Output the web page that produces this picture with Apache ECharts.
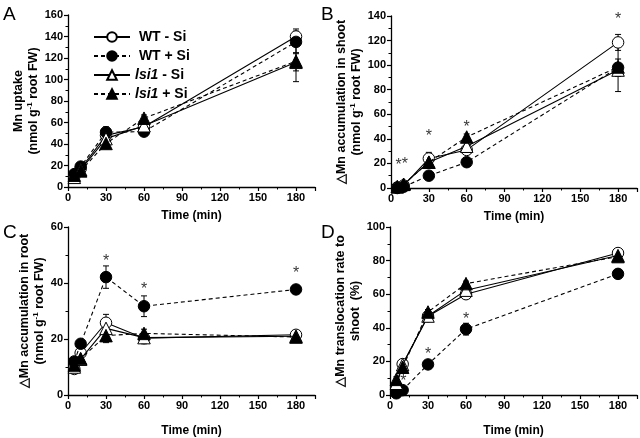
<!DOCTYPE html>
<html>
<head>
<meta charset="utf-8">
<script src="https://cdn.jsdelivr.net/npm/echarts@6/dist/echarts.min.js"></script>
<style>
  html, body { margin: 0; padding: 0; background: #fff; }
  #chart { width: 640px; height: 438px; }
</style>
</head>
<body>
<div id="chart"></div>
<script>
// sampling times (min)
const times = [5, 10, 30, 60, 180];
const groupNames = ['WT - Si', 'WT + Si', 'lsi1 - Si', 'lsi1 + Si'];

// A: Mn uptake, order = groupNames
const uptake = [
  [10, 17, 48, 56, 140],
  [12, 19, 51, 51.5, 135],
  [9, 16, 45, 57, 116],
  [11, 15, 40.5, 64, 117]
];
const uptakeErr = [
  [3, 2, 6, 4, 7],
  [2, 2, 5, 3, 10],
  [3, 2, 4, 3, 8],
  [2, 2, 4, 3, 19]
];
const uptakeStars = [];

// B: delta Mn accumulation in shoot
const shoot = [
  [0.5, 2, 24, 31, 118.5],
  [0, 1, 10, 21, 98],
  [1, 3, 21, 34, 96],
  [1, 3, 21, 41.5, 98.5]
];
const shootErr = [
  [1, 1, 5, 3, 6.5],
  [0.5, 0.5, 1.5, 1.5, 7],
  [1, 1, 3, 3, 5],
  [1, 1, 4, 2.5, 20]
];
const shootStars = [[6, 18], [11, 19], [30, 42], [60, 49], [180, 137]];

// C: delta Mn accumulation in root
const root = [
  [9.3, 15, 25.8, 20.3, 21.5],
  [12, 18.3, 42.1, 31.7, 37.7],
  [10, 12.8, 23.8, 20.5, 21],
  [10.7, 13, 21.2, 22, 20.7]
];
const rootErr = [
  [1.5, 1.5, 3, 2, 1.5],
  [1, 1, 4, 3.7, 1.5],
  [1.5, 1.5, 2, 1.5, 1.5],
  [1, 1, 2.5, 1.5, 1.5]
];
const rootStars = [[30, 47.5], [60, 37.5], [180, 43.5]];

// D: delta Mn translocation rate to shoot (%)
const rate = [
  [4.8, 18.4, 46.9, 60, 84.5],
  [1, 2.9, 18.2, 39.2, 72.1],
  [7, 18, 47, 62.4, 83],
  [9.3, 16.5, 49.4, 66.3, 82.4]
];
const rateErr = [
  [2, 2, 2, 2, 1.5],
  [0.5, 1, 1.5, 3.5, 1.5],
  [2, 2, 2, 1.5, 1.5],
  [1.5, 2, 1.5, 1.5, 1.5]
];
const rateStars = [[10.5, 8], [30, 24], [60, 45], [180, 78]];

const FONT = '"Liberation Sans", Arial, sans-serif';

const grids = [
  { left: 68, top: 15, width: 247, height: 172 },
  { left: 391, top: 16, width: 246, height: 172 },
  { left: 68, top: 227, width: 247, height: 172 },
  { left: 390, top: 227, width: 247, height: 172 }
];

const panels = [
  { values: uptake, errs: uptakeErr, stars: uptakeStars, yMax: 160,
    yName: '{t|Mn uptake}\n{t|(nmol g}{s|-1}{t| root FW)}', yGap: 24, xGap: 23 },
  { values: shoot, errs: shootErr, stars: shootStars, yMax: 140,
    yName: '{t|△Mn accumulation in shoot}\n{t|(nmol g}{s|-1}{t| root FW)}', yGap: 19, xGap: 23 },
  { values: root, errs: rootErr, stars: rootStars, yMax: 60,
    yName: '{t|△Mn accumulation in root}\n{t|(nmol g}{s|-1}{t| root FW)}', yGap: 14, xGap: 30 },
  { values: rate, errs: rateErr, stars: rateStars, yMax: 100,
    yName: '{t|△Mn translocation rate to}\n{t|shoot  (%)}', yGap: 15, xGap: 30 }
];

const symbolFor = ['circle', 'circle', 'triangle', 'triangle'];
const fillFor = ['#fff', '#000', '#fff', '#000'];
const dashFor = ['solid', [4, 3], 'solid', [4, 3]];

const axisCommon = {
  axisLine: { lineStyle: { color: '#000', width: 1.3 } },
  axisTick: { inside: false, length: 4, lineStyle: { color: '#000', width: 1.2 } },
  minorTick: { show: true, splitNumber: 2, length: 2.5, lineStyle: { color: '#000', width: 1 } },
  splitLine: { show: false },
  axisLabel: { color: '#000', fontFamily: FONT, fontWeight: 'bold', fontSize: 11, margin: 5 }
};

const xAxes = [], yAxes = [], series = [];

panels.forEach((p, gi) => {
  xAxes.push(Object.assign({}, axisCommon, {
    gridIndex: gi, type: 'value', min: 0, max: 195, interval: 30,
    name: 'Time (min)', nameLocation: 'middle', nameGap: p.xGap,
    nameTextStyle: { color: '#000', fontFamily: FONT, fontWeight: 'bold', fontSize: 12 },
    axisLabel: Object.assign({}, axisCommon.axisLabel, {
      formatter: v => (v % 30 === 0 ? String(v) : '')
    })
  }));
  yAxes.push(Object.assign({}, axisCommon, {
    gridIndex: gi, type: 'value', min: 0, max: p.yMax, interval: 20,
    name: p.yName, nameLocation: 'middle', nameGap: p.yGap, nameRotate: 90,
    nameTextStyle: {
      color: '#000', fontFamily: FONT, fontWeight: 'bold', fontSize: 12, lineHeight: 15,
      rich: {
        t: { color: '#000', fontFamily: FONT, fontWeight: 'bold', fontSize: 12.5, lineHeight: 15 },
        s: { color: '#000', fontFamily: FONT, fontWeight: 'bold', fontSize: 8, verticalAlign: 'top', lineHeight: 15, padding: [0, 0, 6, 0] }
      }
    }
  }));

  // error bars
  p.values.forEach((vals, si) => {
    const errData = times.map((t, i) => [t, vals[i] - p.errs[si][i], vals[i] + p.errs[si][i]]);
    series.push({
      type: 'custom', xAxisIndex: gi, yAxisIndex: gi, z: 1, silent: true,
      data: errData,
      renderItem: (params, api) => {
        const lo = api.coord([api.value(0), api.value(1)]);
        const hi = api.coord([api.value(0), api.value(2)]);
        const st = { stroke: '#000', lineWidth: 1 };
        return {
          type: 'group',
          children: [
            { type: 'line', shape: { x1: lo[0], y1: lo[1], x2: hi[0], y2: hi[1] }, style: st },
            { type: 'line', shape: { x1: lo[0] - 3, y1: lo[1], x2: lo[0] + 3, y2: lo[1] }, style: st },
            { type: 'line', shape: { x1: hi[0] - 3, y1: hi[1], x2: hi[0] + 3, y2: hi[1] }, style: st }
          ]
        };
      }
    });
  });

  // lines with markers
  p.values.forEach((vals, si) => {
    series.push({
      name: groupNames[si], type: 'line', xAxisIndex: gi, yAxisIndex: gi, z: 3 + si,
      data: times.map((t, i) => [t, vals[i]]),
      symbol: symbolFor[si], symbolSize: symbolFor[si] === 'circle' ? 11.5 : 12.5,
      lineStyle: { color: '#000', width: 1.1, type: dashFor[si] },
      itemStyle: { color: fillFor[si], borderColor: '#000', borderWidth: 1 },
      emphasis: { disabled: true },
      animation: false
    });
  });

  // significance stars
  if (p.stars.length) {
    series.push({
      type: 'scatter', xAxisIndex: gi, yAxisIndex: gi, z: 10, silent: true,
      data: p.stars, symbolSize: 0,
      label: { show: true, position: 'inside', formatter: '*', color: '#000', fontFamily: FONT, fontSize: 16 }
    });
  }
});

const chart = echarts.init(document.getElementById('chart'), null, { renderer: 'canvas' });
chart.setOption({
  animation: false,
  backgroundColor: '#fff',
  grid: grids,
  xAxis: xAxes,
  yAxis: yAxes,
  legend: {
    data: groupNames,
    orient: 'vertical', left: 88, top: 25,
    itemWidth: 36, itemHeight: 12, itemGap: 5,
    selectedMode: false,
    textStyle: {
      color: '#000', fontFamily: FONT, fontWeight: 'bold', fontSize: 14,
      rich: {
        i: { color: '#000', fontFamily: FONT, fontWeight: 'bold', fontStyle: 'italic', fontSize: 14 },
        b: { color: '#000', fontFamily: FONT, fontWeight: 'bold', fontSize: 14 }
      }
    },
    formatter: name => name.indexOf('lsi1') === 0
      ? '{i|lsi1}{b|' + name.slice(4) + '}'
      : '{b| ' + name + '}'
  },
  graphic: [
    { type: 'text', left: 3, top: 5, style: { text: 'A', font: '19px ' + FONT, fill: '#000' } },
    { type: 'text', left: 321, top: 5, style: { text: 'B', font: '19px ' + FONT, fill: '#000' } },
    { type: 'text', left: 3, top: 223, style: { text: 'C', font: '19px ' + FONT, fill: '#000' } },
    { type: 'text', left: 321, top: 223, style: { text: 'D', font: '19px ' + FONT, fill: '#000' } }
  ],
  series: series
});
</script>
</body>
</html>
